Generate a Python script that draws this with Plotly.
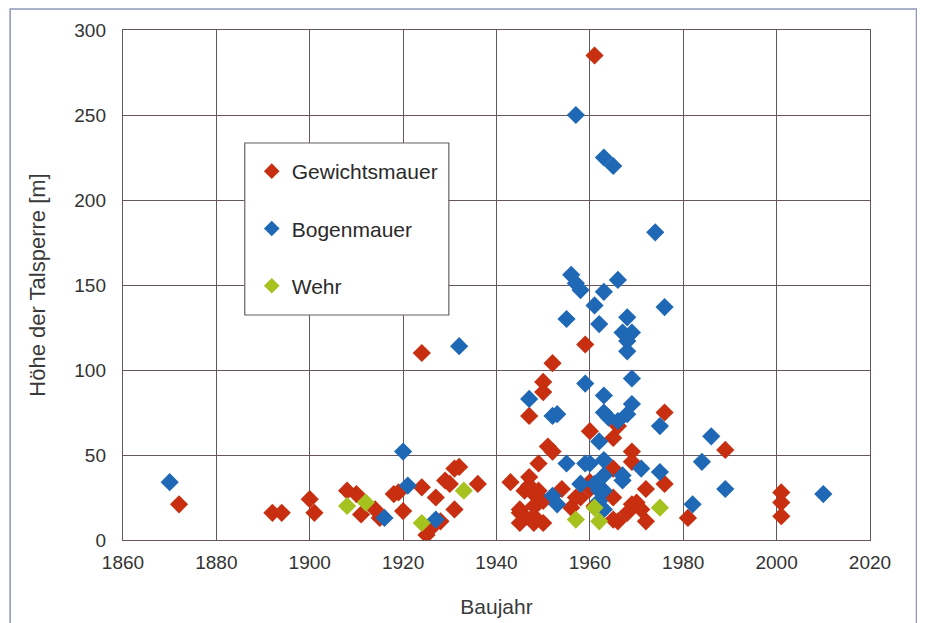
import plotly.graph_objects as go

# Gewichtsmauer (gravity dams)
gew_year = [1872, 1892, 1894, 1900, 1901, 1908, 1910, 1911, 1914, 1915, 1918, 1919, 1920,
            1924, 1924, 1925, 1926, 1927, 1928, 1929, 1930, 1931, 1931, 1932, 1936,
            1943, 1945, 1945, 1946, 1946, 1947, 1947, 1947, 1948, 1948, 1948, 1948,
            1949, 1949, 1949, 1950, 1950, 1950, 1950, 1951, 1952, 1952, 1945,
            1954, 1956, 1957, 1958, 1959, 1960, 1960, 1961, 1960, 1961,
            1965, 1965, 1965, 1965, 1966, 1966, 1969, 1969, 1969, 1970, 1971, 1972,
            1972, 1968, 1976, 1976, 1981, 1989, 2001, 2001, 2001]
gew_h = [21, 16, 16, 24, 16, 29, 27, 15, 18, 13, 27, 28, 17,
         31, 110, 3, 7, 25, 11, 35, 33, 18, 42, 43, 33,
         34, 18, 10, 29, 14, 73, 37, 32, 27, 14, 20, 10,
         45, 22, 29, 93, 87, 10, 23, 55, 52, 104, 16,
         30, 19, 25, 25, 115, 64, 30, 285, 34, 20,
         60, 42, 25, 12, 11, 67, 52, 46, 21, 22, 18, 11,
         30, 16, 75, 33, 13, 53, 28, 22, 14]

# Bogenmauer (arch dams)
bog_year = [1870, 1916, 1920, 1921, 1927, 1932, 1947, 1952, 1953, 1952, 1953, 1955, 1955,
            1956, 1957, 1958, 1957, 1958, 1959, 1960, 1961, 1961, 1962, 1962, 1962,
            1963, 1963, 1963, 1965, 1963, 1964, 1963, 1963, 1963, 1966, 1966, 1967,
            1968, 1967, 1969, 1968, 1968, 1969, 1969, 1968, 1967, 1971, 1974, 1975,
            1975, 1976, 1982, 1984, 1986, 1989, 2010, 1963, 1959, 1958, 1962]
bog_h = [34, 13, 52, 32, 12, 114, 83, 73, 74, 26, 21, 45, 130,
         156, 151, 147, 250, 33, 92, 45, 138, 33, 58, 127, 23,
         146, 85, 225, 220, 75, 72, 47, 38, 29, 153, 70, 38,
         131, 122, 122, 117, 111, 95, 80, 74, 35, 42, 181, 67,
         40, 137, 21, 46, 61, 30, 27, 18, 45, 33, 29]

# Wehr (weirs)
wehr_year = [1908, 1912, 1924, 1933, 1957, 1961, 1962, 1975]
wehr_h = [20, 22, 10, 29, 12, 19, 11, 19]

x_ticks = [1860, 1880, 1900, 1920, 1940, 1960, 1980, 2000, 2020]
y_ticks = [0, 50, 100, 150, 200, 250, 300]

FONT = "Liberation Sans, Arial, sans-serif"
GRID = "#64565a"
MS = 14

fig = go.Figure()
series = [
    ("Gewichtsmauer", gew_year, gew_h, "#c72f10"),
    ("Bogenmauer", bog_year, bog_h, "#1f68b6"),
    ("Wehr", wehr_year, wehr_h, "#a6c21e"),
]
for name, xs, ys, col in series:
    fig.add_trace(go.Scatter(
        x=xs, y=ys, mode="markers", name=name, legendgroup=name,
        marker=dict(symbol="diamond", size=MS, color=col, line=dict(width=0)),
    ))

axis_common = dict(
    showgrid=True, gridcolor=GRID, gridwidth=1.4,
    showline=True, linecolor=GRID, linewidth=1.4, mirror=True,
    zeroline=False, ticks="outside", tickcolor="rgba(0,0,0,0)",
    tickfont=dict(family=FONT, size=19, color="#333333"),
    automargin=False,
)
fig.update_xaxes(range=[1860, 2020], tickvals=x_ticks, ticklen=5,
                 title=dict(text="Baujahr", font=dict(family=FONT, size=21, color="#3a3a3a"), standoff=27),
                 **axis_common)
fig.update_yaxes(range=[0, 300], tickvals=y_ticks, ticklen=12,
                 title=dict(text="Höhe der Talsperre [m]", font=dict(family=FONT, size=22, color="#3a3a3a"), standoff=22),
                 **axis_common)

# page is drawn with an 8px body offset; plot area in figure px: x 115.3..862, y 22..532
OFF = 8
def px2x(p):
    return (p - OFF - 115.3) / 746.7

def py2y(p):
    return (532 - (p - OFF)) / 510

fig.add_shape(type="rect", xref="paper", yref="paper",
              x0=px2x(10.5), x1=px2x(916.5), y0=py2y(640), y1=py2y(9),
              line=dict(color="#8f97b5", width=1.5), fillcolor="rgba(0,0,0,0)", layer="below")
fig.add_shape(type="rect", xref="paper", yref="paper",
              x0=px2x(245), x1=px2x(449), y0=py2y(315), y1=py2y(143),
              line=dict(color="#6b6060", width=1.2), fillcolor="white", layer="above")

fig.update_layout(
    width=917, height=615,
    margin=dict(l=115, r=55, t=22, b=83),
    paper_bgcolor="white", plot_bgcolor="white",
    font=dict(family=FONT),
    legend=dict(
        x=px2x(252), y=py2y(151), xanchor="left", yanchor="top",
        bgcolor="rgba(0,0,0,0)", borderwidth=0,
        font=dict(family=FONT, size=21, color="#2a2a2a"),
        itemsizing="constant", tracegroupgap=27,
    ),
)
fig.write_html("out.html")
